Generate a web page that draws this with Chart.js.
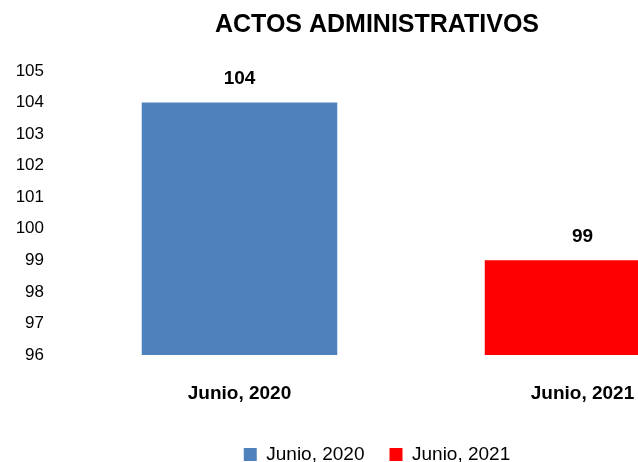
<!DOCTYPE html>
<html>
<head>
<meta charset="utf-8">
<script src="https://cdn.jsdelivr.net/npm/chart.js@4"></script>
<style>
  body { margin: 0; overflow: hidden; background: #fff; }
  #wrap { width: 756px; height: 462px; }
</style>
</head>
<body>
<div id="wrap"><canvas id="myChart" width="756" height="462"></canvas></div>
<script>
// datos del gráfico
const categorias = ['Junio, 2020', 'Junio, 2021']
const valores = [104, 99]
const colores = ['#4F81BD', '#FF0000']
const ticksY = [96, 97, 98, 99, 100, 101, 102, 103, 104, 105]

const myChartCanvas = document.querySelector('#myChart')
const fuente = 'Liberation Sans, Arial, sans-serif'

// un dataset por categoría para que la leyenda muestre ambos
const datasets = categorias.map((cat, i) => ({
    label: cat,
    data: categorias.map((c, j) => (j === i ? valores[i] : null)),
    backgroundColor: colores[i],
    borderWidth: 0,
    grouped: false,
    categoryPercentage: 1,
    barPercentage: 0.57
}))

// etiquetas de valor sobre las barras
const etiquetasValor = {
    id: 'etiquetasValor',
    afterDatasetsDraw(chart) {
        const ctx = chart.ctx
        ctx.save()
        ctx.font = 'bold 19px ' + fuente
        ctx.fillStyle = '#000'
        ctx.textAlign = 'center'
        ctx.textBaseline = 'middle'
        chart.data.datasets.forEach((ds, i) => {
            const meta = chart.getDatasetMeta(i)
            meta.data.forEach((bar, j) => {
                if (ds.data[j] === null) return
                ctx.fillText(ds.data[j], bar.x, bar.y - 24)
            })
        })
        ctx.restore()
    }
}

const config = {
    type: 'bar',
    data: { labels: categorias, datasets },
    options: {
        responsive: false,
        animation: false,
        layout: { padding: { left: 0, right: 2, top: 0, bottom: -12 } },
        plugins: {
            title: {
                display: true,
                text: 'ACTOS ADMINISTRATIVOS',
                color: '#000',
                font: { family: fuente, size: 25, weight: 'bold' },
                padding: { top: 10, bottom: 31 }
            },
            legend: {
                position: 'bottom',
                labels: {
                    color: '#000',
                    font: { family: fuente, size: 19 },
                    boxWidth: 13,
                    boxHeight: 13,
                    padding: 25
                }
            },
            tooltip: { enabled: false }
        },
        scales: {
            x: {
                grid: { display: false, drawTicks: false },
                border: { display: false },
                ticks: {
                    color: '#000',
                    font: { family: fuente, size: 19, weight: 'bold' },
                    padding: 27
                },
                afterFit(scale) { scale.height = 65 }
            },
            y: {
                min: 96,
                max: 105,
                grid: { display: false, drawTicks: false },
                border: { display: false },
                afterBuildTicks(scale) { scale.ticks = ticksY.map(v => ({ value: v })) },
                ticks: {
                    color: '#000',
                    font: { family: fuente, size: 17 },
                    padding: 24
                },
                afterFit(scale) { scale.width = 68 }
            }
        }
    },
    plugins: [etiquetasValor]
}

new Chart(myChartCanvas, config)
</script>
</body>
</html>
